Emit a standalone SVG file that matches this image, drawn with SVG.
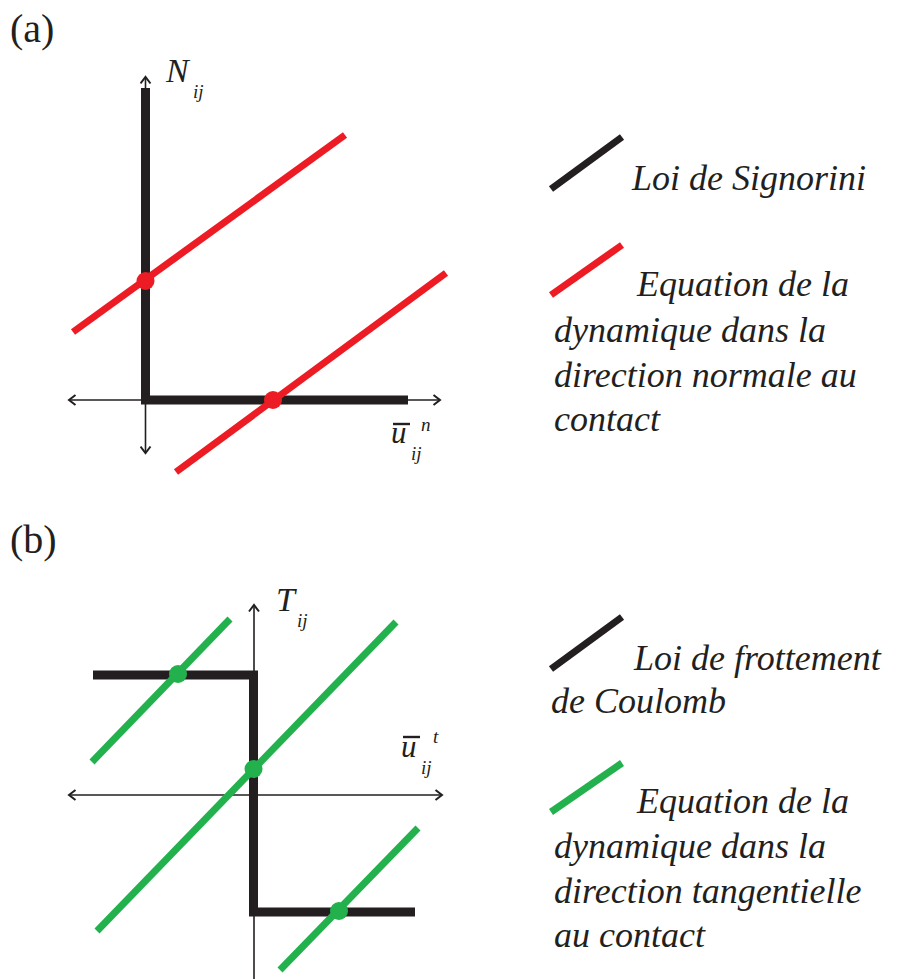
<svg xmlns="http://www.w3.org/2000/svg" width="897" height="979" viewBox="0 0 897 979">
<defs>
<marker id="arr" viewBox="-10 -6 12 12" refX="0" refY="0" markerWidth="12" markerHeight="12" markerUnits="userSpaceOnUse" orient="auto-start-reverse">
<polyline points="-6.5,-5 0,0 -6.5,5" fill="none" stroke="#231f20" stroke-width="2"/>
</marker>
</defs>
<g font-family="Liberation Serif" fill="#231f20" font-size="40">
<text x="10" y="42">(a)</text>
<text x="10" y="553">(b)</text>
</g>

<g id="panel-a">
<g id="axes-a" stroke="#231f20" stroke-width="1.6" fill="none" marker-start="url(#arr)" marker-end="url(#arr)">
<line x1="69" y1="400" x2="440" y2="400"/>
<line x1="145.5" y1="453" x2="145.5" y2="77"/>
</g>
<polyline points="145.5,88 145.5,400 408,400" stroke="#231f20" stroke-width="9" fill="none"/>
<g stroke="#ed1c24" stroke-width="7">
<line x1="73" y1="332" x2="345" y2="135"/>
<line x1="176" y1="472" x2="446" y2="273"/>
</g>
<g fill="#ed1c24">
<circle cx="145.5" cy="281" r="9"/>
<circle cx="273" cy="400" r="9"/>
</g>
<line x1="393" y1="424" x2="410" y2="424" stroke="#231f20" stroke-width="2.4"/>
<g font-family="Liberation Serif" font-style="italic" fill="#231f20">
<text x="166" y="82" font-size="34">N</text>
<text x="193" y="98" font-size="19">ij</text>
<text x="391" y="443" font-size="31">u</text>
<text x="411" y="460" font-size="19">ij</text>
<text x="421" y="431" font-size="19">n</text>
</g>
</g>

<g id="legend-a">
<line x1="551" y1="189" x2="622" y2="137" stroke="#231f20" stroke-width="7"/>
<line x1="551" y1="295" x2="622" y2="245" stroke="#ed1c24" stroke-width="7"/>
<g font-family="Liberation Serif" font-style="italic" fill="#231f20" font-size="36">
<text x="632" y="190">Loi de Signorini</text>
<text x="637" y="296">Equation de la</text>
<text x="554" y="342">dynamique dans la</text>
<text x="554" y="387">direction normale au</text>
<text x="554" y="431">contact</text>
</g>
</g>

<g id="panel-b">
<g id="axes-b" stroke="#231f20" stroke-width="1.6" fill="none" marker-start="url(#arr)" marker-end="url(#arr)">
<line x1="69" y1="795" x2="442" y2="795"/>
<line x1="254" y1="990" x2="254" y2="605"/>
</g>
<polyline points="93,675 253.5,675 253.5,912 415,912" stroke="#231f20" stroke-width="9" fill="none"/>
<g stroke="#22b14c" stroke-width="7">
<line x1="92" y1="762" x2="230" y2="619"/>
<line x1="97" y1="931" x2="396" y2="622"/>
<line x1="280" y1="970" x2="418" y2="828"/>
</g>
<g fill="#22b14c">
<circle cx="178" cy="674" r="9"/>
<circle cx="253.5" cy="769" r="9"/>
<circle cx="339" cy="911" r="9"/>
</g>
<line x1="403" y1="737" x2="420" y2="737" stroke="#231f20" stroke-width="2.4"/>
<g font-family="Liberation Serif" font-style="italic" fill="#231f20">
<text x="276" y="611" font-size="34">T</text>
<text x="297" y="627" font-size="19">ij</text>
<text x="401" y="757" font-size="31">u</text>
<text x="421" y="774" font-size="19">ij</text>
<text x="433" y="743" font-size="19">t</text>
</g>
</g>

<g id="legend-b">
<line x1="551" y1="669" x2="622" y2="617" stroke="#231f20" stroke-width="7"/>
<line x1="551" y1="812" x2="622" y2="763" stroke="#22b14c" stroke-width="7"/>
<g font-family="Liberation Serif" font-style="italic" fill="#231f20" font-size="36">
<text x="634" y="670">Loi de frottement</text>
<text x="551" y="713">de Coulomb</text>
<text x="637" y="813">Equation de la</text>
<text x="554" y="858">dynamique dans la</text>
<text x="554" y="903">direction tangentielle</text>
<text x="554" y="947">au contact</text>
</g>
</g>
</svg>
